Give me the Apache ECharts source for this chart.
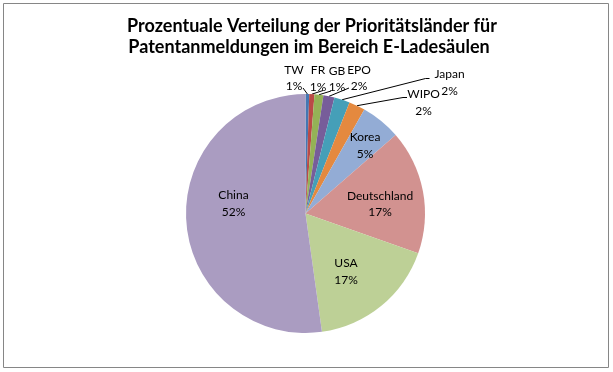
<!DOCTYPE html>
<html>
<head>
<meta charset="utf-8">
<script src="https://cdn.jsdelivr.net/npm/echarts@6/dist/echarts.min.js"></script>
<style>
html,body{margin:0;padding:0;background:#fff;}
#c{width:613px;height:372px;}
</style>
</head>
<body>
<div id="c"></div>
<script>
// ---- data ----
var categories = ['TW', 'FR', 'GB', 'EPO', 'Japan', 'WIPO', 'Korea', 'Deutschland', 'USA', 'China'];
var shares = [0.5, 0.7, 1.2, 1.5, 2.1, 2.2, 5.4, 16.8, 17.4, 52.2];
var titleLines = ['Prozentuale Verteilung der Prioritätsländer für', 'Patentanmeldungen im Bereich E-Ladesäulen'];

// ---- style / layout ----
var colors = ['#4477B3', '#BA4A47', '#94B256', '#775D9A', '#459FB8', '#E4893F', '#93ACD5', '#D29290', '#BDD096', '#AA9CC1'];
var CX = 305.5, CY = 213.5, R = 119.5;
// label block centres (pixels) and leader-line start points
var labelAt = [[294, 78], [318, 78.5], [337, 79], [359, 78], [449.5, 82.5], [423.5, 102.5], [365, 145.5], [380, 204], [346, 271.5], [233.5, 203.5]];
var lineFrom = [[303, 88], [323, 90.5], [331, 91], [349, 88], [[429.5, 78.5], [425.5, 78.5]], [[407, 97.5], [403, 97.5]], null, null, null, null];

var total = shares.reduce(function (a, b) { return a + b; }, 0);
var midAngles = [];
(function () {
  var acc = 0;
  for (var i = 0; i < shares.length; i++) {
    var a0 = acc / total * 360;
    acc += shares[i];
    var a1 = acc / total * 360;
    midAngles.push((a0 + a1) / 2);
  }
})();
function arcPoint(i) {
  var t = midAngles[i] * Math.PI / 180;
  return [CX + R * Math.sin(t), CY - R * Math.cos(t)];
}

var data = categories.map(function (n, i) {
  return {
    name: n,
    value: shares[i],
    itemStyle: { color: colors[i] },
    labelLine: { show: lineFrom[i] !== null }
  };
});

var chart = echarts.init(document.getElementById('c'), null, { renderer: 'canvas' });
chart.setOption({
  animation: false,
  backgroundColor: '#ffffff',
  graphic: [
    { type: 'rect', shape: { x: 3.5, y: 3.5, width: 605, height: 364 }, style: { fill: 'none', stroke: '#868686', lineWidth: 1 }, z: 0 },
    { type: 'text', x: 312, y: 26, style: { text: titleLines[0], font: 'bold 18px Lato', fill: '#000', align: 'center', verticalAlign: 'middle' } },
    { type: 'text', x: 309, y: 47.5, style: { text: titleLines[1], font: 'bold 18px Lato', fill: '#000', align: 'center', verticalAlign: 'middle' } }
  ],
  series: [{
    type: 'pie',
    center: [CX, CY],
    radius: [0, R],
    startAngle: 90,
    clockwise: true,
    avoidLabelOverlap: false,
    data: data,
    itemStyle: { borderWidth: 0 },
    emphasis: { disabled: true },
    label: {
      show: true,
      position: 'outside',
      fontFamily: 'Lato',
      fontSize: 12,
      color: '#000',
      lineHeight: 16.5,
      formatter: function (p) {
        var pct = Math.round(Number((p.value / total * 100).toFixed(3)));
        return p.name + '\n' + pct + '%';
      }
    },
    labelLine: { show: true, length: 5, length2: 5, lineStyle: { color: '#000', width: 1 } },
    labelLayout: function (p) {
      var i = p.dataIndex;
      var res = { x: labelAt[i][0], y: labelAt[i][1], align: 'center', verticalAlign: 'middle' };
      var lf = lineFrom[i];
      if (lf) {
        var end = arcPoint(i);
        if (Array.isArray(lf[0])) {
          res.labelLinePoints = [lf[0], lf[1], end];
        } else {
          res.labelLinePoints = [lf, lf, end];
        }
      }
      return res;
    }
  }]
});
</script>
</body>
</html>
